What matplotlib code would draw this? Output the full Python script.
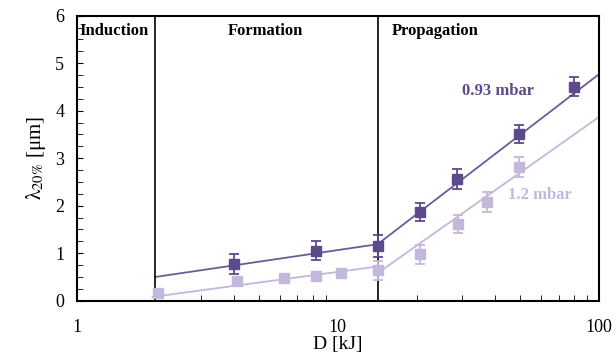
import matplotlib
matplotlib.use("Agg")
import matplotlib.pyplot as plt
import numpy as np
from matplotlib.ticker import MultipleLocator, FixedLocator, NullFormatter

plt.rcParams['font.family'] = ['Liberation Serif', 'DejaVu Serif']
plt.rcParams['mathtext.fontset'] = 'stix'

# 0.93 mbar data (dark)
d_hi = [4.0, 8.25, 14.2, 20.6, 28.5, 49.5, 80.0]
lam_hi = [0.77, 1.05, 1.15, 1.86, 2.56, 3.51, 4.51]
err_hi = [0.21, 0.2, 0.23, 0.19, 0.21, 0.19, 0.2]

# 1.2 mbar data (light)
d_lo = [2.05, 4.1, 6.2, 8.25, 10.3, 14.2, 20.6, 28.9, 37.2, 49.5]
lam_lo = [0.17, 0.41, 0.47, 0.52, 0.59, 0.64, 0.98, 1.61, 2.08, 2.82]
err_lo = [0, 0, 0, 0, 0, 0.2, 0.2, 0.19, 0.21, 0.21]

# fitted lines (end points)
fit_hi_form_x = [2.0, 14.2]
fit_hi_form_y = [0.50, 1.19]
fit_hi_prop_x = [14.2, 100]
fit_hi_prop_y = [1.19, 4.77]
fit_lo_form_x = [1.95, 14.2]
fit_lo_form_y = [0.08, 0.72]
fit_lo_prop_x = [14.2, 100]
fit_lo_prop_y = [0.58, 3.87]

# regime boundaries
bounds = [2.0, 14.2]

dark = '#5d4a8a'
light = '#c3b7db'

fig = plt.figure(figsize=(6.16, 3.58), dpi=100)
ax = fig.add_axes([0.1245, 0.160, 0.848, 0.796])

ax.plot(fit_hi_form_x, fit_hi_form_y, color='#6b5b98', lw=1.3)
ax.plot(fit_hi_prop_x, fit_hi_prop_y, color='#6b5b98', lw=1.3)
ax.plot(fit_lo_form_x, fit_lo_form_y, color=light, lw=1.3)
ax.plot(fit_lo_prop_x, fit_lo_prop_y, color=light, lw=1.3)

ax.errorbar(d_lo, lam_lo, yerr=err_lo, fmt='s', color=light, ms=7,
            capsize=3.5, elinewidth=1.3, capthick=1.3, zorder=3)
ax.errorbar(d_hi, lam_hi, yerr=err_hi, fmt='s', color=dark, ms=7,
            capsize=3.5, elinewidth=1.3, capthick=1.3, zorder=4)

for b in bounds:
    ax.axvline(b, color='black', lw=1.2)

ax.set_xscale('log')
ax.set_xlim(1, 100)
ax.set_ylim(0, 6)
ax.xaxis.set_major_locator(FixedLocator([1, 10, 100]))
ax.set_xticklabels(['1', '10', '100'])
ax.xaxis.set_minor_locator(FixedLocator([2, 3, 4, 5, 6, 7, 8, 9, 20, 30, 40, 50, 60, 70, 80, 90]))
ax.xaxis.set_minor_formatter(NullFormatter())
ax.yaxis.set_major_locator(MultipleLocator(1))
ax.yaxis.set_minor_locator(MultipleLocator(0.25))

ax.tick_params(which='both', direction='in', top=False, right=False, labelsize=13)
ax.tick_params(axis='x', which='major', length=0, pad=13)
ax.tick_params(axis='x', which='minor', length=4)
ax.tick_params(axis='y', which='both', length=4, pad=9)
for s in ax.spines.values():
    s.set_linewidth(1.5)

ax.set_xlabel('D [kJ]', fontsize=14, labelpad=0)
ax.set_ylabel(r'$\mathrm{\lambda}_{20\%}$ [μm]', fontsize=15, labelpad=5)

ax.text(1.02, 5.68, 'Induction', fontsize=12, fontweight='bold', va='center')
ax.text(5.3, 5.68, 'Formation', fontsize=12, fontweight='bold', va='center', ha='center')
ax.text(23.5, 5.68, 'Propagation', fontsize=12, fontweight='bold', va='center', ha='center')
ax.text(41, 4.41, '0.93 mbar', fontsize=12, fontweight='bold', color=dark, va='center', ha='center')
ax.text(59.5, 2.22, '1.2 mbar', fontsize=12, fontweight='bold', color=light, va='center', ha='center')

fig.savefig('out.png', dpi=100)
